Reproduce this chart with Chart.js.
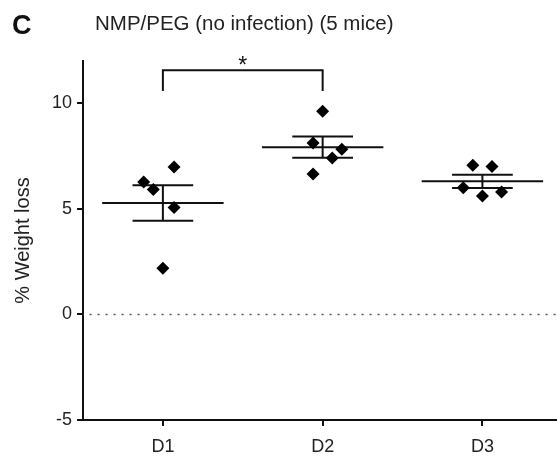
<!DOCTYPE html>
<html>
<head>
<meta charset="utf-8">
<script src="https://cdn.jsdelivr.net/npm/chart.js@4.4.1/dist/chart.umd.min.js"></script>
<style>
  html, body { margin: 0; padding: 0; background: #fff; overflow: hidden; }
  #wrap { width: 557px; height: 461px; position: relative; overflow: hidden; }
</style>
</head>
<body>
<div id="wrap"><canvas id="myChart" width="564" height="461"></canvas></div>
<script>
// groups along x
const categories = ['D1', 'D2', 'D3'];
const groupPos = [1, 2, 3];

// % weight loss for each mouse (5 per day), and the small sideways jitter
const weightD1 = [6.98, 6.27, 5.91, 5.06, 2.19];
const jitterD1 = [0.07, -0.12, -0.06, 0.07, 0];
const weightD2 = [9.62, 8.12, 7.82, 7.41, 6.65];
const jitterD2 = [0, -0.06, 0.12, 0.06, -0.06];
const weightD3 = [7.06, 7.01, 6.00, 5.61, 5.80];
const jitterD3 = [-0.06, 0.06, -0.12, 0, 0.12];

// mean +/- SEM as drawn
const means = [5.28, 7.92, 6.30];
const sems = [0.84, 0.50, 0.31];

const yTicks = [-5, 0, 5, 10];
const sigFrom = 1, sigTo = 2, sigLow = 10.58, sigHigh = 11.56;
const titleText = 'NMP/PEG (no infection) (5 mice)';

const FONT = '"Liberation Sans", Arial, sans-serif';
const INK = '#111';
const meanHalf = 0.38;
const capHalf = 0.19;
const xMin = 0.5, xMax = 3.47;

let weights = [weightD1, weightD2, weightD3];
let jitters = [jitterD1, jitterD2, jitterD3];

let pts = [];
weights.forEach((arr, g) => {
    arr.forEach((v, i) => pts.push({ x: groupPos[g] + jitters[g][i], y: v }));
});

function seg(data, width, dash) {
    return {
        data: data,
        showLine: true,
        borderColor: INK,
        borderWidth: width || 2,
        borderDash: dash || [],
        pointRadius: 0,
        pointHoverRadius: 0,
        tension: 0,
        spanGaps: false
    };
}

let datasets = [];
// points first so they sit on top
datasets.push({
    data: pts,
    pointStyle: 'rectRot',
    pointRadius: 6.5,
    pointHoverRadius: 6.5,
    backgroundColor: '#000',
    borderColor: '#000',
    borderWidth: 0,
    showLine: false
});

groupPos.forEach((x, g) => {
    let m = means[g], s = sems[g];
    datasets.push(seg([{ x: x - meanHalf, y: m }, { x: x + meanHalf, y: m }]));
    datasets.push(seg([{ x: x, y: m - s }, { x: x, y: m + s }]));
    datasets.push(seg([{ x: x - capHalf, y: m + s }, { x: x + capHalf, y: m + s }]));
    datasets.push(seg([{ x: x - capHalf, y: m - s }, { x: x + capHalf, y: m - s }]));
});

// significance bracket
datasets.push(seg([
    { x: sigFrom, y: sigLow }, { x: sigFrom, y: sigHigh },
    { x: sigTo, y: sigHigh }, { x: sigTo, y: sigLow }
]));

// dotted zero line
let zero = seg([{ x: xMin, y: 0 }, { x: xMax, y: 0 }], 1.5, [2, 6]);
zero.borderColor = '#555';
zero.borderDashOffset = 1.4;
datasets.push(zero);

const annot = {
    id: 'annot',
    afterDraw(chart) {
        const ctx = chart.ctx;
        const xs = chart.scales.x, ys = chart.scales.y;
        ctx.save();
        ctx.fillStyle = INK;
        ctx.textBaseline = 'alphabetic';
        ctx.font = 'bold 27px ' + FONT;
        ctx.fillText('C', 12, 34);
        ctx.fillStyle = '#222';
        ctx.font = '20.5px ' + FONT;
        ctx.fillText(titleText, 95, 30);
        ctx.fillStyle = INK;
        ctx.textAlign = 'center';
        ctx.font = '23px ' + FONT;
        ctx.fillText('*', xs.getPixelForValue((sigFrom + sigTo) / 2), ys.getPixelForValue(11.42));
        ctx.restore();
    }
};

new Chart(document.getElementById('myChart'), {
    type: 'scatter',
    data: { datasets: datasets },
    plugins: [annot],
    options: {
        responsive: false,
        animation: false,
        devicePixelRatio: 1,
        layout: { padding: { top: 61, left: 0, right: 0, bottom: 0 } },
        plugins: {
            legend: { display: false },
            tooltip: { enabled: false }
        },
        scales: {
            x: {
                type: 'linear',
                min: xMin,
                max: xMax,
                afterBuildTicks: (s) => { s.ticks = groupPos.map(v => ({ value: v })); },
                afterFit: (s) => { s.height = 41; },
                ticks: {
                    callback: (v, i) => categories[i],
                    color: '#222',
                    font: { family: FONT, size: 18 },
                    padding: 10,
                    maxRotation: 0
                },
                grid: { drawOnChartArea: false, drawTicks: true, tickLength: 6, color: INK, lineWidth: 2 },
                border: { display: true, color: INK, width: 2 }
            },
            y: {
                min: -5,
                max: 12,
                afterBuildTicks: (s) => { s.ticks = yTicks.map(v => ({ value: v })); },
                afterFit: (s) => { s.width = 83; },
                ticks: {
                    color: '#222',
                    font: { family: FONT, size: 18 },
                    padding: 5
                },
                title: {
                    display: true,
                    text: '% Weight loss',
                    color: '#222',
                    font: { family: FONT, size: 20 },
                    padding: { top: 11, bottom: 0 }
                },
                grid: { drawOnChartArea: false, drawTicks: true, tickLength: 6, color: INK, lineWidth: 2 },
                border: { display: true, color: INK, width: 2 }
            }
        }
    }
});
</script>
</body>
</html>
